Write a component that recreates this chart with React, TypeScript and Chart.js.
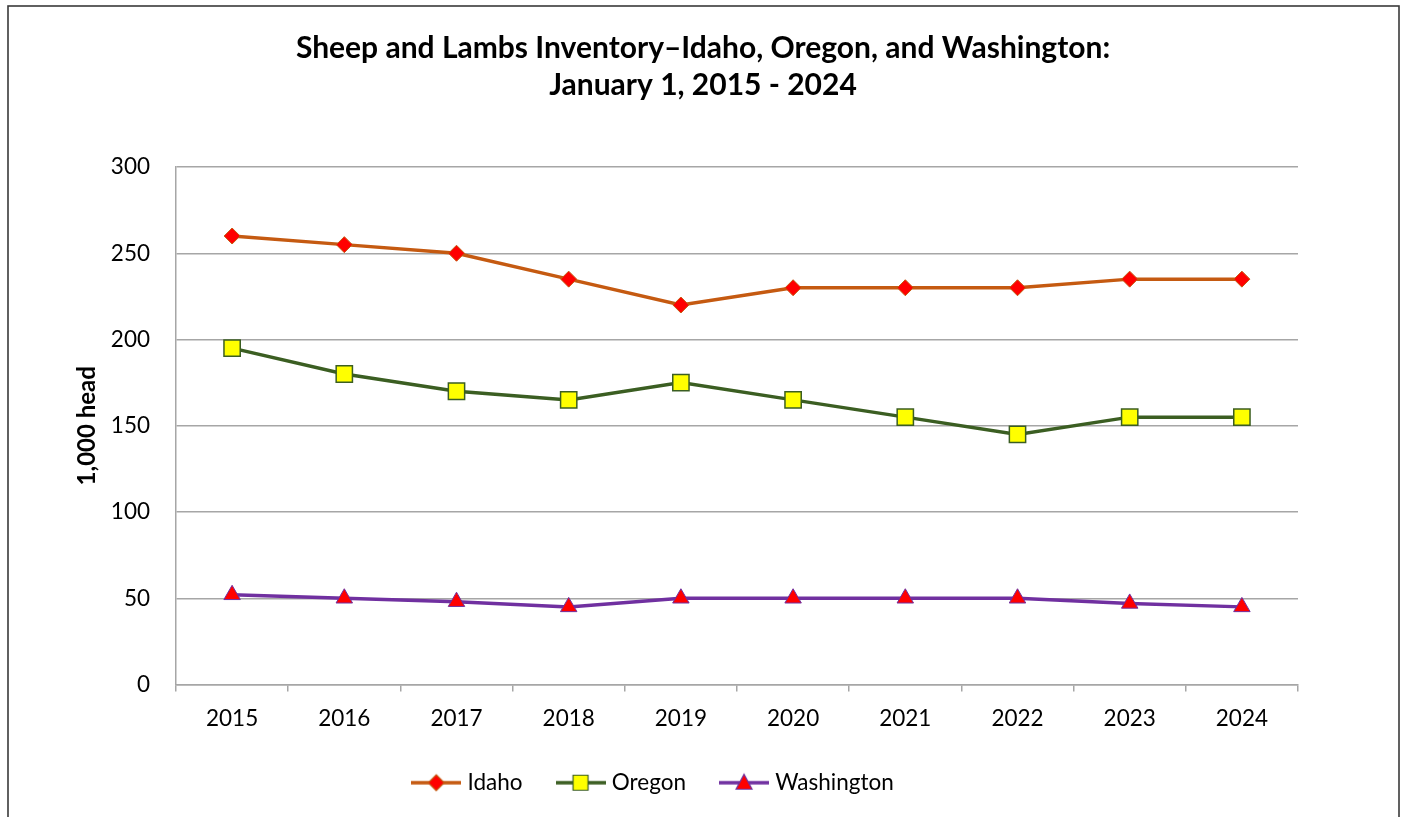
import React, { useEffect, useRef } from 'react';
import { Chart, registerables } from 'chart.js';

Chart.register(...registerables);

const years = ['2015', '2016', '2017', '2018', '2019', '2020', '2021', '2022', '2023', '2024'];
const idaho = [260, 255, 250, 235, 220, 230, 230, 230, 235, 235];
const oregon = [195, 180, 170, 165, 175, 165, 155, 145, 155, 155];
const washington = [52, 50, 48, 45, 50, 50, 50, 50, 47, 45];
const seriesNames = ['Idaho', 'Oregon', 'Washington'];
const titleLines = ['Sheep and Lambs Inventory\u2013Idaho, Oregon, and Washington:', 'January 1, 2015 - 2024'];
const yAxisTitle = '1,000 head';
const yMin = 0;
const yMax = 300;
const yStep = 50;

const FONT = 'Lato';
const GRID = '#a6a6a6';
const IDAHO_LINE = '#C55A11';
const OREGON_LINE = '#3B5E22';
const WASH_LINE = '#7030A0';

function legendIcon(kind: string, line: string, fill: string, stroke: string) {
  const c = document.createElement('canvas');
  c.width = 50;
  c.height = 24;
  const ctx = c.getContext('2d')!;
  ctx.strokeStyle = line;
  ctx.lineWidth = 3.5;
  ctx.beginPath();
  ctx.moveTo(0, 12);
  ctx.lineTo(50, 12);
  ctx.stroke();
  ctx.fillStyle = fill;
  ctx.strokeStyle = stroke;
  ctx.lineWidth = 1.2;
  ctx.beginPath();
  if (kind === 'diamond') {
    ctx.moveTo(25, 4);
    ctx.lineTo(33, 12);
    ctx.lineTo(25, 20);
    ctx.lineTo(17, 12);
    ctx.closePath();
  } else if (kind === 'square') {
    ctx.rect(17.5, 4.5, 15, 15);
  } else {
    ctx.moveTo(25, 3.5);
    ctx.lineTo(33, 18.5);
    ctx.lineTo(17, 18.5);
    ctx.closePath();
  }
  ctx.fill();
  ctx.stroke();
  return c;
}

export default function App() {
  const ref = useRef<HTMLCanvasElement | null>(null);

  useEffect(() => {
    document.body.style.margin = '0';
    const canvas = ref.current;
    if (!canvas) return;

    const icons = [
      legendIcon('diamond', IDAHO_LINE, '#FF0000', IDAHO_LINE),
      legendIcon('square', OREGON_LINE, '#FFFF00', OREGON_LINE),
      legendIcon('triangle', WASH_LINE, '#FF0000', WASH_LINE),
    ];

    const borderPlugin = {
      id: 'outerBorder',
      beforeDraw(chart: any) {
        const ctx = chart.ctx;
        ctx.save();
        ctx.fillStyle = '#ffffff';
        ctx.fillRect(0, 0, chart.width, chart.height);
        ctx.strokeStyle = '#3a3a3a';
        ctx.lineWidth = 1.6;
        ctx.strokeRect(8, 6, 1391, 900);
        ctx.restore();
      },
    };

    const legendShift = {
      id: 'legendShift',
      afterLayout(chart: any) {
        const l = chart.legend;
        if (l) {
          l.left -= 48;
          l.right -= 48;
        }
      },
    };

    const chart = new Chart(canvas, {
      type: 'line',
      data: {
        labels: years,
        datasets: [
          {
            label: seriesNames[0],
            data: idaho,
            borderColor: IDAHO_LINE,
            borderWidth: 3.5,
            pointStyle: 'rectRot',
            pointRadius: 8,
            pointBackgroundColor: '#FF0000',
            pointBorderColor: IDAHO_LINE,
            pointBorderWidth: 1,
            tension: 0,
          },
          {
            label: seriesNames[1],
            data: oregon,
            borderColor: OREGON_LINE,
            borderWidth: 3.5,
            pointStyle: 'rect',
            pointRadius: 11.5,
            pointBackgroundColor: '#FFFF00',
            pointBorderColor: OREGON_LINE,
            pointBorderWidth: 1.5,
            tension: 0,
          },
          {
            label: seriesNames[2],
            data: washington,
            borderColor: WASH_LINE,
            borderWidth: 3.5,
            pointStyle: 'triangle',
            pointRadius: 9.5,
            pointBackgroundColor: '#FF0000',
            pointBorderColor: WASH_LINE,
            pointBorderWidth: 1,
            tension: 0,
          },
        ],
      },
      options: {
        responsive: false,
        animation: false,
        events: [],
        layout: { padding: { top: 6, bottom: 13, left: 8, right: 8 } },
        plugins: {
          title: {
            display: true,
            text: titleLines,
            color: '#000',
            font: { family: FONT, size: 30, weight: 'bold', lineHeight: '37px' },
            padding: { top: 23.5, bottom: 63.5 },
          },
          legend: {
            position: 'bottom',
            labels: {
              usePointStyle: true,
              pointStyleWidth: 40,
              padding: 38,
              color: '#000',
              font: { family: FONT, size: 22.5 },
              generateLabels: () =>
                seriesNames.map((name, i) => ({
                  text: name,
                  pointStyle: icons[i],
                  fillStyle: 'transparent',
                  strokeStyle: 'transparent',
                  lineWidth: 0,
                  hidden: false,
                  datasetIndex: i,
                  fontColor: '#000',
                  rotation: 0,
                })),
            },
          },
          tooltip: { enabled: false },
        },
        scales: {
          x: {
            type: 'category',
            offset: true,
            grid: {
              offset: true,
              drawOnChartArea: false,
              drawTicks: true,
              tickLength: 7,
              color: GRID,
              lineWidth: 1.5,
            },
            border: { display: true, color: GRID, width: 1.5 },
            ticks: {
              color: '#000',
              font: { family: FONT, size: 22.5, lineHeight: 1.2 },
              padding: 14,
              maxRotation: 0,
              autoSkip: false,
            },
            afterFit: (s: any) => {
              s.height = 49;
            },
          },
          y: {
            min: yMin,
            max: yMax,
            ticks: {
              stepSize: yStep,
              padding: 26,
              color: '#000',
              font: { family: FONT, size: 22.5, lineHeight: 1.2 },
            },
            grid: { color: GRID, lineWidth: 1.5, drawTicks: false },
            border: { display: true, color: GRID, width: 1.5 },
            title: {
              display: true,
              text: yAxisTitle,
              color: '#000',
              font: { family: FONT, size: 24, weight: 'bold', lineHeight: 1.2 },
              padding: { top: 64.6, bottom: 0 },
            },
            afterFit: (s: any) => {
              s.width = 168;
            },
          },
          y2: {
            position: 'right',
            display: true,
            ticks: { display: false },
            grid: { display: false },
            border: { display: false },
            afterFit: (s: any) => {
              s.width = 100;
            },
          },
        },
      } as any,
      plugins: [borderPlugin, legendShift],
    });

    return () => chart.destroy();
  }, []);

  return <canvas ref={ref} width={1406} height={817} style={{ display: 'block' }} />;
}
